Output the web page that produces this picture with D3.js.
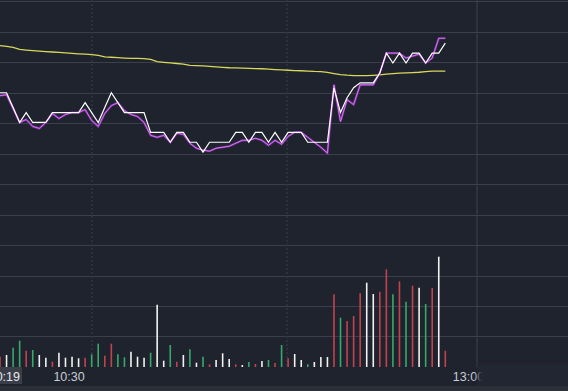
<!DOCTYPE html>
<html>
<head>
  <script src="https://d3js.org/d3.v7.min.js"></script>
  <style>
    * {
        margin: 0;
        box-sizing: border-box;
    }
    body { background: #1f232e; overflow: hidden; }
    text { font-family: "Liberation Sans", Arial, sans-serif; }
  </style>
</head>
<body>
  <script>
    // minute data, first bar = cursor time
    const price = [5.65,5.65,5.635,5.62,5.63,5.62,5.62,5.62,5.63,5.63,
      5.63,5.63,5.63,5.64,5.63,5.62,5.635,5.65,5.64,5.63,
      5.63,5.63,5.63,5.61,5.61,5.61,5.60,5.61,5.61,5.60,
      5.60,5.59,5.60,5.60,5.60,5.60,5.61,5.61,5.60,5.61,
      5.61,5.60,5.61,5.60,5.61,5.61,5.61,5.60,5.60,5.60,
      5.60,5.655,5.63,5.645,5.655,5.66,5.66,5.66,5.67,5.69,
      5.68,5.69,5.68,5.69,5.69,5.68,5.69,5.69,5.70];
    const avgPrice = [5.647,5.648,5.634,5.620,5.623,5.616,5.614,5.620,5.629,5.624,
      5.628,5.630,5.630,5.633,5.622,5.616,5.629,5.637,5.640,5.632,
      5.628,5.626,5.620,5.607,5.605,5.607,5.600,5.609,5.608,5.599,
      5.594,5.592,5.591,5.594,5.595,5.596,5.599,5.602,5.602,5.604,
      5.602,5.597,5.602,5.598,5.606,5.610,5.610,5.605,5.600,5.595,
      5.589,5.658,5.621,5.643,5.638,5.658,5.658,5.658,5.670,5.690,
      5.690,5.690,5.685,5.687,5.689,5.680,5.685,5.705,5.705];
    const maLine = [5.6975,5.6967,5.6959,5.6938,5.6931,5.6925,5.6920,5.6916,5.6911,5.6907,
      5.6903,5.6898,5.6893,5.6889,5.6884,5.6877,5.6863,5.6858,5.6854,5.6850,
      5.6847,5.6846,5.6845,5.6836,5.6813,5.6807,5.6801,5.6795,5.6788,5.6777,
      5.6774,5.6771,5.6766,5.6761,5.6756,5.6752,5.6750,5.6748,5.6746,5.6744,
      5.6742,5.6739,5.6734,5.6730,5.6727,5.6724,5.6722,5.6719,5.6715,5.6713,
      5.6705,5.6694,5.6683,5.6677,5.6673,5.6672,5.6673,5.6676,5.6680,5.6687,
      5.6693,5.6697,5.6700,5.6703,5.6707,5.6713,5.6718,5.6719,5.6719];
    const volume = [1030,1200,1930,2630,1630,1700,1200,930,530,1430,
      930,1030,870,930,1270,2330,1130,2330,1270,970,
      1530,1030,930,1430,6230,630,2200,530,1200,1770,
      430,1030,270,700,1370,800,270,200,500,300,
      600,700,400,2200,870,1300,700,270,500,1000,
      1000,7270,4930,4600,5100,7370,8430,7300,7530,9770,
      7270,8570,6530,8130,7930,6300,7900,11030,1630];
    // 1 = up (red), -1 = down (green), 0 = flat (white)
    const barDir = [1,0,-1,-1,1,-1,0,0,1,0,
      0,0,0,1,-1,-1,1,1,-1,-1,
      0,0,0,-1,0,0,-1,1,0,-1,
      0,-1,1,0,0,0,1,0,-1,1,
      0,-1,1,-1,1,0,0,-1,0,0,
      0,1,-1,1,1,1,0,0,1,1,
      -1,1,-1,1,0,-1,1,0,1];
    const tickLabels = ["10:30", "13:00"];
    const tickIndex = [11, 72];
    const cursorLabel = "10:19";

    const width = 568, height = 391;
    const svg = d3.select("body").append("svg")
      .attr("width", width)
      .attr("height", height);

    const defs = svg.append("defs");
    defs.append("filter").attr("id", "blur")
      .attr("x", "-20%").attr("y", "-50%").attr("width", "140%").attr("height", "200%")
      .append("feGaussianBlur").attr("stdDeviation", 2.5);

    svg.append("rect").attr("width", width).attr("height", height).attr("fill", "#1f232e");

    const x = d3.scaleLinear().domain([0, price.length - 1]).range([0, 445.3]);
    const yPrice = d3.scaleLinear().domain([5.5276, 5.7426]).range([214, 1]);
    const yVol = d3.scaleLinear().domain([0, 15300]).range([367, 214]);
    const gridY = d3.scaleLinear().domain([0, 12]).range([1, 367]);

    // horizontal grid
    svg.append("g").selectAll("line")
      .data(d3.range(0, 12))
      .enter().append("line")
      .attr("x1", 0).attr("x2", width)
      .attr("y1", d => Math.round(gridY(d)) + 0.5)
      .attr("y2", d => Math.round(gridY(d)) + 0.5)
      .attr("stroke", "#3a3f4b")
      .attr("stroke-width", 1);

    // vertical grid
    const vGrid = [{ x: 92, dash: true }, { x: 287, dash: true }, { x: 477, dash: false }];
    svg.append("g").selectAll("line")
      .data(vGrid)
      .enter().append("line")
      .attr("x1", d => d.x).attr("x2", d => d.x)
      .attr("y1", 0).attr("y2", 367)
      .attr("stroke", d => d.dash ? "#30353f" : "#3d424e")
      .attr("stroke-width", d => d.dash ? 1.6 : 1)
      .attr("stroke-dasharray", d => d.dash ? "2,2" : null);

    // volume bars
    const barColor = d => d === 1 ? "#c0434f" : d === -1 ? "#37a96b" : "#f2f2f2";
    svg.append("g").selectAll("line")
      .data(volume)
      .enter().append("line")
      .attr("x1", (d, i) => x(i)).attr("x2", (d, i) => x(i))
      .attr("y1", yVol(0))
      .attr("y2", d => yVol(d))
      .attr("stroke", (d, i) => barColor(barDir[i]))
      .attr("stroke-width", 1.6);

    const line = d3.line()
      .x((d, i) => x(i))
      .y(d => yPrice(d));

    svg.append("path").datum(maLine)
      .attr("d", line)
      .attr("fill", "none")
      .attr("stroke", "#d8d85a")
      .attr("stroke-width", 1.3);

    svg.append("path").datum(avgPrice)
      .attr("d", line)
      .attr("fill", "none")
      .attr("stroke", "#7e2aa6")
      .attr("stroke-width", 2.2);
    svg.append("path").datum(avgPrice)
      .attr("d", line)
      .attr("fill", "none")
      .attr("stroke", "#e090f0")
      .attr("stroke-width", 0.8);

    svg.append("path").datum(price)
      .attr("d", line)
      .attr("fill", "none")
      .attr("stroke", "#ffffff")
      .attr("stroke-width", 1.2);

    // time axis labels
    svg.append("g").selectAll("text")
      .data(tickLabels)
      .enter().append("text")
      .attr("x", (d, i) => x(tickIndex[i]) - 3)
      .attr("y", 381)
      .attr("text-anchor", "middle")
      .attr("fill", "#c9ccd3")
      .attr("font-size", 12.5)
      .text(d => d);

    // watermark smear over the right end of the axis
    svg.append("rect")
      .attr("x", 478).attr("y", 364).attr("width", 100).attr("height", 24)
      .attr("fill", "#242831")
      .attr("filter", "url(#blur)");

    // cursor time label
    svg.append("rect")
      .attr("x", x(0) - 20).attr("y", 367).attr("width", 42).attr("height", 17)
      .attr("fill", "#3a3e49");
    svg.append("text")
      .attr("x", x(0) + 20)
      .attr("y", 381)
      .attr("text-anchor", "end")
      .attr("fill", "#e6e8ec")
      .attr("font-size", 12.5)
      .text(cursorLabel);

    // bottom strip
    svg.append("rect")
      .attr("x", 0).attr("y", 386).attr("width", width).attr("height", 5)
      .attr("fill", "#2b2f38");
  </script>
</body>
</html>
